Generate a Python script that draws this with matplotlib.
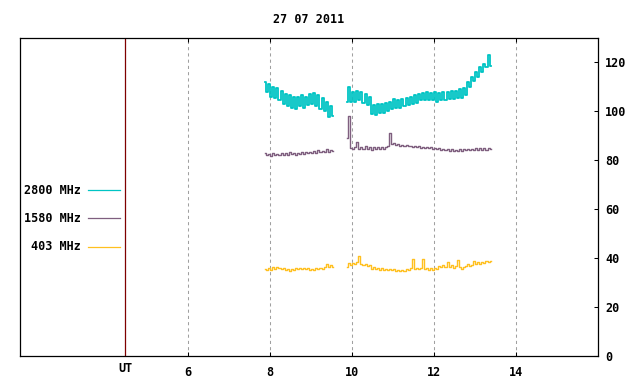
import numpy as np
import matplotlib
matplotlib.use("Agg")
import matplotlib.pyplot as plt
from matplotlib.transforms import offset_copy

title = "27 07 2011"
legend_labels = ["2800 MHz", "1580 MHz", "403 MHz"]
colors = ["#00c4c4", "#7f5f7f", "#ffc020"]
x_ticks = [6, 8, 10, 12, 14]
y_ticks = [0, 20, 40, 60, 80, 100, 120]
ut_pos = 4.468

step = 0.05
seg1_start = 7.88
seg2_start = 9.88

f2800_a = [112, 108, 111, 106, 110, 105.5, 109.5, 104.5, 108.5, 103, 107, 102, 106.5, 101.5,
           106, 101, 106, 102, 106.5, 101.5, 106, 102.5, 107, 103, 107.5, 102, 106.5, 101,
           105.5, 100, 104, 97.5, 102, 98]
f2800_b = [104, 110, 104, 108, 104, 108.5, 104.5, 108, 103.5, 107, 102.5, 106, 99, 102.5,
           98.5, 103, 99.5, 103, 99.5, 103.5, 100, 104, 101, 105, 101.5, 104.5, 101.5, 105,
           102, 105.5, 102.5, 106, 103, 106.5, 103.5, 107, 104.5, 107.5, 104.5, 108, 104.5,
           107.5, 104.5, 108, 104, 107.5, 104.5, 108, 104.5, 108, 105, 108.5, 105, 108.5,
           105.5, 109, 105.5, 109.5, 106.5, 112, 110, 114, 112.5, 116, 114, 118, 116, 119.5,
           118, 123, 118.5]

f1580_a = [82.8, 82.0, 82.6, 81.9, 82.9, 82.2, 82.7, 82.0, 83.0, 82.3, 82.8, 82.1, 83.3, 82.4,
           82.9, 82.1, 83.0, 82.5, 83.2, 82.6, 83.4, 82.8, 83.6, 83.0, 83.8, 83.1, 84.2, 83.3,
           84.0, 83.4, 84.5, 83.6, 84.4, 84.0]
f1580_b = [89, 98, 85, 84.5, 85.3, 87.5, 84.6, 85.5, 84.7, 85.8, 84.5, 85.6, 84.4, 85.3, 84.6,
           85.5, 84.5, 85.4, 84.8, 85.5, 86, 91, 86.5, 87, 86.3, 86.8, 86.0, 86.4, 85.8, 86.3,
           85.7, 86.0, 85.5, 85.9, 85.3, 85.7, 85.2, 85.6, 85.1, 85.5, 84.9, 85.3, 84.8, 85.2,
           84.5, 84.9, 84.2, 84.7, 84.1, 84.6, 84.0, 84.5, 83.8, 84.3, 83.8, 84.5, 84.0, 84.6,
           84.1, 84.7, 84.2, 84.8, 84.2, 84.9, 84.3, 84.9, 84.4, 85.0, 84.3, 84.9, 84.5]

f403_a = [35.5, 35.0, 35.8, 35.3, 36.2, 35.6, 36.3, 35.8, 35.4, 35.9, 35.1, 35.7, 34.8, 35.6,
          35.2, 35.9, 35.4, 36.0, 35.5, 36.0, 35.4, 35.8, 35.3, 35.7, 35.2, 35.8, 35.5, 36.0,
          35.6, 36.3, 37.5, 36.2, 37.0, 36.3]
f403_b = [36.5, 38.0, 37.2, 38.2, 37.5, 38.5, 41, 37.8, 37.0, 37.6, 36.8, 37.3, 35.6, 36.2,
          35.4, 35.9, 35.3, 35.8, 35.2, 35.7, 35.2, 35.6, 35.0, 35.4, 34.9, 35.3, 34.8, 35.2,
          34.9, 35.4, 35.0, 35.8, 39.8, 35.6, 36.0, 35.5, 36.1, 39.8, 35.5, 36.0, 35.3, 35.8,
          35.2, 35.9, 35.5, 36.8, 36.2, 37.0, 36.3, 38.5, 36.5, 37.2, 36.0, 36.6, 39.4, 36.2,
          35.7, 36.3, 36.8, 37.5, 36.6, 37.2, 38.8, 37.5, 38.3, 37.6, 38.6, 37.9, 39.0, 38.5,
          38.9]

series = [(f2800_a, f2800_b), (f1580_a, f1580_b), (f403_a, f403_b)]
widths = [1.3, 1.0, 1.0]

W, H = 640, 384
fig = plt.figure(figsize=(W / 100, H / 100), dpi=100)
L, R, T, B = 20, 598, 38, 356
ax = fig.add_axes([L / W, 1 - B / H, (R - L) / W, (B - T) / H])

mono = dict(family="DejaVu Sans Mono", weight="bold", size=8.5)

for (a, b), c, w in zip(series, colors, widths):
    ta = seg1_start + step * np.arange(len(a))
    tb = seg2_start + step * np.arange(len(b))
    ax.plot(ta, a, color=c, lw=w, drawstyle="steps-mid")
    ax.plot(tb, b, color=c, lw=w, drawstyle="steps-mid")

ax.set_xlim(1.9, 16.0)
ax.set_ylim(0, 130)

for xt in x_ticks:
    ax.axvline(xt, color="#a0a0a0", lw=0.75, dashes=(3, 3), zorder=0)
ax.axvline(ut_pos, color="#7f0000", lw=0.9, zorder=1)

ax.set_xticks(x_ticks)
ax.set_xticklabels([str(v) for v in x_ticks], fontdict=mono)
ax.set_yticks(y_ticks)
ax.yaxis.tick_right()
ax.set_yticklabels([str(v) for v in y_ticks], fontdict=mono)
ax.tick_params(axis="x", direction="in", length=3.2, width=0.75, pad=7, top=True, bottom=True)
ax.tick_params(axis="y", direction="in", length=3.2, width=0.75, pad=5,
               left=False, right=True, labelleft=False, labelright=True)
for s in ax.spines.values():
    s.set_linewidth(0.9)

ut_tr = offset_copy(ax.get_xaxis_transform(), fig=fig, x=0, y=-6, units="dots")
ax.text(ut_pos, 0, "UT", transform=ut_tr, ha="center", va="top", **mono)

ax.set_title(title, pad=11, **mono)

# legend (drawn manually at the left)
leg_y = [190, 218, 247]
for lab, c, yy in zip(legend_labels, colors, leg_y):
    yf = 1 - yy / H
    fig.text(81 / W, yf, lab, ha="right", va="center", **mono)
    fig.add_artist(plt.Line2D([88 / W, 120 / W], [yf, yf], color=c, lw=0.9,
                              transform=fig.transFigure))

fig.savefig("out.png", dpi=100)
